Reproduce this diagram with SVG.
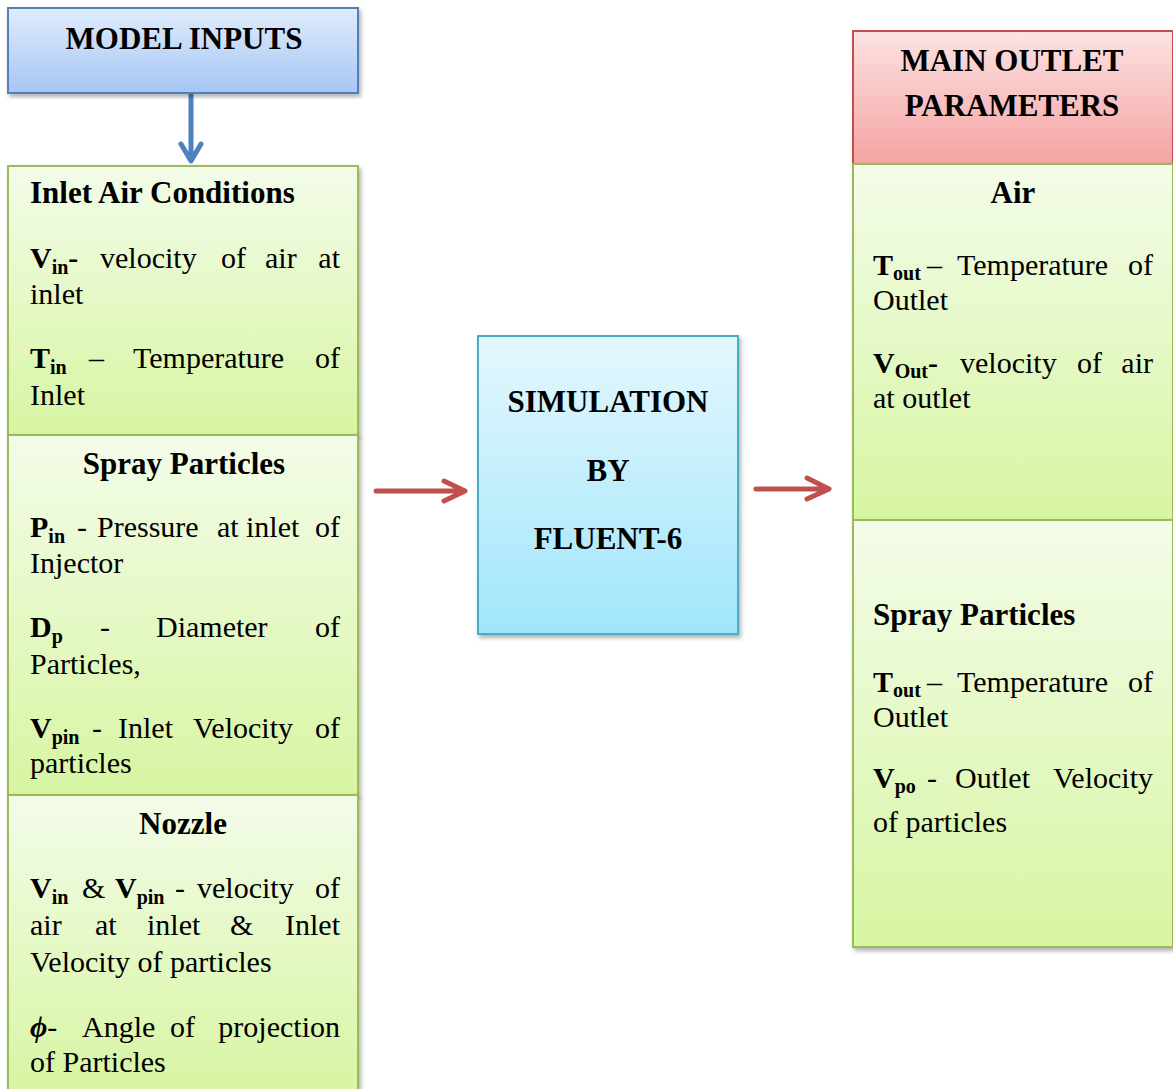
<svg xmlns="http://www.w3.org/2000/svg" width="1173" height="1089" viewBox="0 0 1173 1089">
<style>
.t{font-family:"Liberation Serif","Times New Roman",serif;font-size:30px;fill:#000}
.b{font-weight:bold}
.h{font-family:"Liberation Serif","Times New Roman",serif;font-size:31px;font-weight:bold;fill:#000}
.s{font-size:20px;font-weight:bold}
.c{text-anchor:middle}
.e{text-anchor:end}
.box{stroke-width:2}
.g{fill:url(#gGreen);stroke:#9bbb59}
.arrowB{stroke:#4f81bd;stroke-width:5;fill:none;stroke-linecap:round;stroke-linejoin:round}
.arrowR{stroke:#c0504d;stroke-width:5;fill:none;stroke-linecap:round;stroke-linejoin:round}
</style>
<defs>
<linearGradient id="gBlue" x1="0" y1="0" x2="0" y2="1"><stop offset="0" stop-color="#e0ecfc"/><stop offset="1" stop-color="#a6c6f4"/></linearGradient>
<linearGradient id="gGreen" x1="0" y1="0" x2="0" y2="1"><stop offset="0" stop-color="#f3fce9"/><stop offset="1" stop-color="#d7f5a2"/></linearGradient>
<linearGradient id="gCyan" x1="0" y1="0" x2="0" y2="1"><stop offset="0" stop-color="#e4f7fd"/><stop offset="1" stop-color="#a0e6fb"/></linearGradient>
<linearGradient id="gRed" x1="0" y1="0" x2="0" y2="1"><stop offset="0" stop-color="#fde2e2"/><stop offset="1" stop-color="#f4a3a2"/></linearGradient>
<filter id="sh" x="-5%" y="-5%" width="112%" height="112%"><feDropShadow dx="2" dy="3" stdDeviation="2" flood-color="#000" flood-opacity="0.3"/></filter>
</defs>
<rect width="1173" height="1089" fill="#fff"/>

<g id="connectors">
<path class="arrowB" d="M191,94 V160 M181,144 L191,161 L201,144"/>
<path class="arrowR" d="M376,491 H464 M444,481 L465,491 L444,501"/>
<path class="arrowR" d="M756,489 H828 M807,478 L829,489 L807,499"/>
</g>

<g id="model-inputs">
<rect class="box" x="8" y="8" width="350" height="85" fill="url(#gBlue)" stroke="#4f81bd" filter="url(#sh)"/>
<text class="h c" x="184" y="49">MODEL INPUTS</text>
</g>

<g id="inlet-air">
<rect class="box g" x="8" y="166" width="350" height="269" filter="url(#sh)"/>
<text class="h" x="30" y="203">Inlet Air Conditions</text>
<text class="t" y="268"><tspan class="b" x="30">V</tspan><tspan class="s" dy="6">in</tspan><tspan class="b" dy="-6">-</tspan><tspan x="100">velocity</tspan><tspan x="221">of</tspan><tspan x="265">air</tspan></text>
<text class="t e" x="340" y="268">at</text>
<text class="t" x="30" y="304">inlet</text>
<text class="t" y="368"><tspan class="b" x="30">T</tspan><tspan class="s" dy="6">in</tspan><tspan x="89" dy="-6">–</tspan><tspan x="133">Temperature</tspan></text>
<text class="t e" x="340" y="368">of</text>
<text class="t" x="30" y="405">Inlet</text>
</g>

<g id="spray-in">
<rect class="box g" x="8" y="435" width="350" height="360" filter="url(#sh)"/>
<text class="h c" x="184" y="474">Spray Particles</text>
<text class="t" y="537"><tspan class="b" x="30">P</tspan><tspan class="s" dy="6">in</tspan><tspan x="77" dy="-6">-</tspan><tspan x="97">Pressure</tspan><tspan x="217">at</tspan><tspan x="246">inlet</tspan></text>
<text class="t e" x="340" y="537">of</text>
<text class="t" x="30" y="573">Injector</text>
<text class="t" y="637"><tspan class="b" x="30">D</tspan><tspan class="s" dy="6">p</tspan><tspan x="100" dy="-6">-</tspan><tspan x="156">Diameter</tspan></text>
<text class="t e" x="340" y="637">of</text>
<text class="t" x="30" y="674">Particles,</text>
<text class="t" y="738"><tspan class="b" x="30">V</tspan><tspan class="s" dy="6">pin</tspan><tspan x="92" dy="-6">-</tspan><tspan x="118">Inlet</tspan><tspan x="193">Velocity</tspan></text>
<text class="t e" x="340" y="738">of</text>
<text class="t" x="30" y="773">particles</text>
</g>

<g id="nozzle">
<rect class="box g" x="8" y="795" width="350" height="300" filter="url(#sh)"/>
<text class="h c" x="183" y="834">Nozzle</text>
<text class="t" y="898"><tspan class="b" x="30">V</tspan><tspan class="s" dy="6">in</tspan><tspan x="82" dy="-6">&amp;</tspan><tspan class="b" x="115">V</tspan><tspan class="s" dy="6">pin</tspan><tspan x="175" dy="-6">-</tspan><tspan x="197">velocity</tspan></text>
<text class="t e" x="340" y="898">of</text>
<text class="t" y="935"><tspan x="30">air</tspan><tspan x="95">at</tspan><tspan x="147">inlet</tspan><tspan x="230">&amp;</tspan></text>
<text class="t e" x="340" y="935">Inlet</text>
<text class="t" x="30" y="972">Velocity of particles</text>
<text class="t" y="1037"><tspan class="b" font-style="italic" x="30">ϕ</tspan><tspan>-</tspan><tspan x="82">Angle</tspan><tspan x="170">of</tspan></text>
<text class="t e" x="340" y="1037">projection</text>
<text class="t" x="30" y="1072">of Particles</text>
</g>

<g id="simulation">
<rect class="box" x="478" y="336" width="260" height="298" fill="url(#gCyan)" stroke="#4bacc6" filter="url(#sh)"/>
<text class="h c" x="608" y="412">SIMULATION</text>
<text class="h c" x="608" y="481">BY</text>
<text class="h c" x="608" y="549">FLUENT-6</text>
</g>

<g id="outlet-header">
<rect class="box" x="853" y="31" width="320" height="133" fill="url(#gRed)" stroke="#c0504d" filter="url(#sh)"/>
<text class="h c" x="1012" y="71">MAIN OUTLET</text>
<text class="h c" x="1012" y="116">PARAMETERS</text>
</g>

<g id="outlet-air">
<rect class="box g" x="853" y="164" width="320" height="356" filter="url(#sh)"/>
<text class="h c" x="1013" y="203">Air</text>
<text class="t" y="275"><tspan class="b" x="873">T</tspan><tspan class="s" dy="5">out</tspan><tspan x="927" dy="-5">–</tspan><tspan x="957">Temperature</tspan></text>
<text class="t e" x="1153" y="275">of</text>
<text class="t" x="873" y="310">Outlet</text>
<text class="t" y="373"><tspan class="b" x="873">V</tspan><tspan class="s" dy="5">Out</tspan><tspan class="b" dy="-5">-</tspan><tspan x="960">velocity</tspan><tspan x="1077">of</tspan></text>
<text class="t e" x="1153" y="373">air</text>
<text class="t" x="873" y="408">at outlet</text>
</g>

<g id="outlet-spray">
<rect class="box g" x="853" y="520" width="320" height="427" filter="url(#sh)"/>
<text class="h" x="873" y="625">Spray Particles</text>
<text class="t" y="692"><tspan class="b" x="873">T</tspan><tspan class="s" dy="5">out</tspan><tspan x="927" dy="-5">–</tspan><tspan x="957">Temperature</tspan></text>
<text class="t e" x="1153" y="692">of</text>
<text class="t" x="873" y="727">Outlet</text>
<text class="t" y="788"><tspan class="b" x="873">V</tspan><tspan class="s" dy="5">po</tspan><tspan x="927" dy="-5">-</tspan><tspan x="955">Outlet</tspan></text>
<text class="t e" x="1153" y="788">Velocity</text>
<text class="t" x="873" y="832">of particles</text>
</g>
</svg>
